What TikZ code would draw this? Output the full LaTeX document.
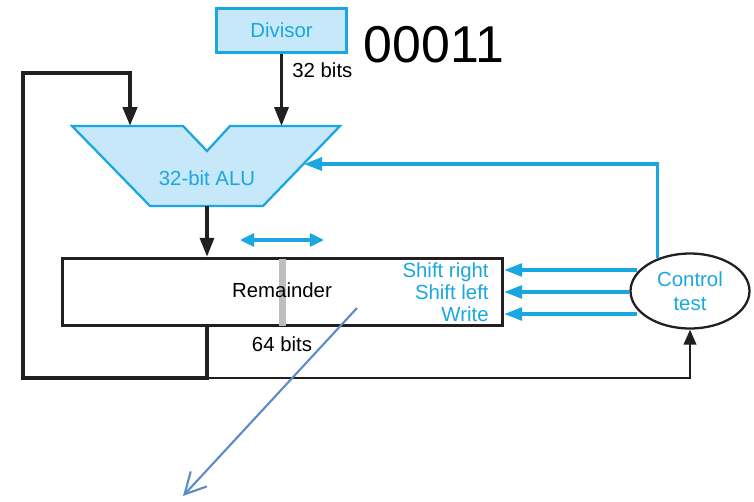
\documentclass[tikz,border=0pt]{standalone}
\usepackage{fontspec}
\setmainfont{Liberation Sans}
\usetikzlibrary{arrows.meta,calc,positioning,shapes.geometric}
\definecolor{hpcyan}{HTML}{1AA7E1}
\definecolor{hpfill}{HTML}{C6E8F8}
\definecolor{hpblack}{HTML}{231F20}
\definecolor{hpgray}{HTML}{BCBEC0}
\definecolor{hpsteel}{HTML}{5B8CC7}

\begin{document}
\begin{tikzpicture}[x=0.02cm,y=-0.02cm,
  font=\fontsize{11.6pt}{13.7pt}\selectfont,
  blk/.style={draw=hpblack,line width=2pt},
  blkarr/.style={-{Triangle[length=3.8mm,width=2.8mm]}},
  cyl/.style={draw=hpcyan,line width=1.8pt},
  cyarr/.style={-{Triangle[length=3.6mm,width=2.6mm]}},
  lbl/.style={text=hpcyan,inner sep=0pt,text height=8.4pt,text depth=0pt}]
  \useasboundingbox (0,0) rectangle (754,501);

  % divisor register and the value in it
  \node[draw=hpcyan,line width=1.9pt,fill=hpfill,text=hpcyan,
        minimum width=2.6cm,minimum height=0.88cm] (divisor) at (281.5,30.5) {Divisor};
  \node[font=\fontsize{29.5pt}{30pt}\selectfont,inner sep=0pt] (value) at (434,45) {00011};
  \node[anchor=west,inner sep=0pt] (w32) at (292,70) {32 bits};

  % ALU
  \coordinate (aluL) at (130,126);
  \coordinate (aluR) at (281,126);
  \coordinate (aluout) at (207,206);
  \coordinate (aluin) at (304,164);
  \filldraw[fill=hpfill,draw=hpcyan,line width=1.3pt]
    (72,126) -- (183,126) -- (207,151) -- (230,126) -- (340,126) -- (263,206) -- (150,206) -- cycle;
  \node[text=hpcyan] (alu) at (207,178) {32-bit ALU};

  % remainder register
  \node[blk,minimum width=8.8cm,minimum height=1.34cm] (rem) at (282.5,292) {};
  \draw[hpgray,line width=4pt,shorten <=1pt,shorten >=1pt] (rem.north) -- (rem.south);
  \node (remtxt) at (282,290) {Remainder};
  \node (w64) at (282,344) {64 bits};
  \node[lbl,anchor=east] (shr) at (489,270) {Shift right};
  \node[lbl,anchor=east] (shl) at (489,292) {Shift left};
  \node[lbl,anchor=east] (wr) at (489,314) {Write};

  \coordinate (shiftl) at (240,240);
  \coordinate (shiftr) at (324,240);
  \draw[cyl,{Triangle[length=2.8mm,width=2.6mm]}-{Triangle[length=2.8mm,width=2.6mm]}] (shiftl) -- (shiftr);

  % control
  \node[ellipse,draw=hpblack,line width=1.3pt,fill=white,text=hpcyan,align=center,inner sep=0pt,
        minimum width=2.38cm,minimum height=1.5cm] (ctrl) at (690,291) {Control\\test};

  % datapath
  \draw[blk,blkarr] (divisor.south) -- (divisor.south |- aluR);
  \draw[blk,blkarr] (aluout) -- (aluout |- rem.north);
  \coordinate (tap) at (207,378);
  \draw[blk,line width=2.5pt,blkarr] (tap |- rem.south) -- (tap) -- (23,378) -- (23,73) -- (130,73) -- (aluL);
  \draw[blk,line width=1.3pt,-{Triangle[length=3mm,width=2.5mm]}] (tap) -| (ctrl.south);

  % control lines
  \draw[cyl,cyarr] (ctrl.135) |- (aluin);
  \draw[cyl,cyarr] (ctrl.160 |- shr.east) -- (rem.east |- shr.east);
  \draw[cyl,cyarr] (ctrl.west |- shl.east) -- (rem.east |- shl.east);
  \draw[cyl,cyarr] (ctrl.200 |- wr.east) -- (rem.east |- wr.east);

  % pointer
  \coordinate (ptr) at (357,308);
  \coordinate (ptrend) at (183,496);
  \draw[hpsteel,line width=1.2pt,-{Straight Barb[length=4.2mm,width=4.4mm]}] (ptr) -- (ptrend);
\end{tikzpicture}
\end{document}
